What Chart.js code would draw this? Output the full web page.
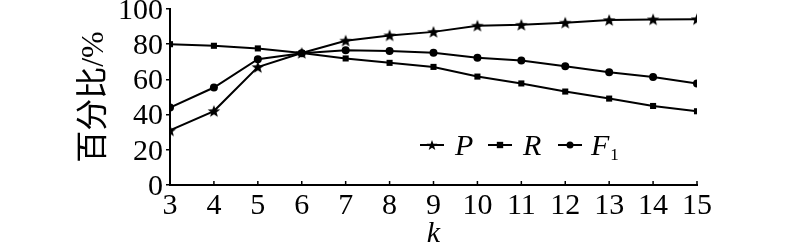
<!DOCTYPE html>
<html>
<head>
<meta charset="utf-8">
<script src="https://cdn.jsdelivr.net/npm/chart.js@4.4.1/dist/chart.umd.min.js"></script>
<style>
  html, body { margin: 0; padding: 0; background: #fff; }
</style>
</head>
<body>
<canvas id="chart" width="800" height="246"></canvas>
<script>
const kValues = [3, 4, 5, 6, 7, 8, 9, 10, 11, 12, 13, 14, 15];
const precision = [31, 42, 67, 75, 82, 85, 87, 90.5, 91, 92.2, 93.7, 94.1, 94.2];
const recall = [80, 79.1, 77.6, 75, 71.9, 69.4, 67.1, 61.6, 57.7, 53.1, 49.1, 44.9, 41.9];
const f1 = [44, 55.4, 71.5, 74.8, 76.6, 76.1, 75.1, 72.3, 70.8, 67.5, 64.1, 61.3, 57.7];
const yTicks = [0, 20, 40, 60, 80, 100];
const seriesNames = ['P', 'R', 'F'];

const serif = '"Liberation Serif", "Times New Roman", serif';

// filled five point star for the P marker
function makeStar(size, outer, inner) {
    const c = document.createElement('canvas');
    c.width = size;
    c.height = size;
    const g = c.getContext('2d');
    g.fillStyle = '#000';
    g.beginPath();
    for (let i = 0; i < 10; i++) {
        const r = i % 2 === 0 ? outer : inner;
        const a = -Math.PI / 2 + i * Math.PI / 5;
        const px = size / 2 + r * Math.cos(a);
        const py = size / 2 + 0.5 + r * Math.sin(a);
        if (i === 0) g.moveTo(px, py); else g.lineTo(px, py);
    }
    g.closePath();
    g.fill();
    return c;
}
const starImg = makeStar(14, 6.6, 2.8);
const starSmall = makeStar(12, 5.6, 2.3);

const toPoints = (arr) => arr.map((v, i) => ({ x: kValues[i], y: v }));

function makeDataset(label, values, style, radius) {
    return {
        label: label,
        data: toPoints(values),
        borderColor: '#000',
        backgroundColor: '#000',
        borderWidth: 2,
        pointStyle: style,
        pointRadius: radius,
        pointBorderWidth: 0,
        pointBackgroundColor: '#000',
        tension: 0
    };
}

// legend drawn inside the plot, with subscript for F1
const inlineLegend = {
    id: 'inlineLegend',
    afterDraw(chart) {
        const ctx = chart.ctx;
        const y = 145;
        const items = [
            { x1: 420, x2: 444, tx: 455, style: starSmall, r: 5 },
            { x1: 488, x2: 512, tx: 523, style: 'rect', r: 4.5 },
            { x1: 558, x2: 582, tx: 591, style: 'circle', r: 3.5 }
        ];
        ctx.save();
        items.forEach((it, i) => {
            ctx.strokeStyle = '#000';
            ctx.fillStyle = '#000';
            ctx.lineWidth = 2;
            ctx.beginPath();
            ctx.moveTo(it.x1, y);
            ctx.lineTo(it.x2, y);
            ctx.stroke();
            Chart.helpers.drawPoint(ctx, { pointStyle: it.style, radius: it.r, rotation: 0, borderWidth: 0 }, (it.x1 + it.x2) / 2, y);
            ctx.font = 'italic 30px ' + serif;
            ctx.textBaseline = 'alphabetic';
            ctx.textAlign = 'left';
            ctx.fillText(seriesNames[i], it.tx, 155);
            if (i === 2) {
                const w = ctx.measureText(seriesNames[i]).width;
                ctx.font = '17px ' + serif;
                ctx.fillText('1', it.tx + w + 1, 160);
            }
        });
        ctx.restore();
    }
};

// x axis tick marks point into the plot
const innerTicks = {
    id: 'innerTicks',
    afterDraw(chart) {
        const ctx = chart.ctx;
        const xs = chart.scales.x;
        const bottom = chart.chartArea.bottom;
        ctx.save();
        ctx.strokeStyle = '#000';
        ctx.lineWidth = 1.5;
        kValues.forEach((k) => {
            const px = xs.getPixelForValue(k);
            ctx.beginPath();
            ctx.moveTo(px, bottom);
            ctx.lineTo(px, bottom - 4);
            ctx.stroke();
        });
        ctx.restore();
    }
};

function drawChart() {
    const ctx = document.getElementById('chart').getContext('2d');
    new Chart(ctx, {
        type: 'line',
        data: {
            datasets: [
                makeDataset('P', precision, starImg, 7),
                makeDataset('R', recall, 'rect', 4.3),
                makeDataset('F1', f1, 'circle', 4)
            ]
        },
        options: {
            responsive: false,
            animation: false,
            layout: { padding: { left: 75, right: 103, top: 9, bottom: 0 } },
            plugins: {
                legend: { display: false },
                tooltip: { enabled: false }
            },
            scales: {
                x: {
                    type: 'linear',
                    min: 3,
                    max: 15,
                    afterFit: (s) => { s.height = 61; s.paddingLeft = 0; s.paddingRight = 0; },
                    border: { display: true, color: '#000', width: 2 },
                    grid: { display: true, drawOnChartArea: false, drawTicks: false },
                    ticks: {
                        stepSize: 1,
                        autoSkip: false,
                        maxRotation: 0,
                        color: '#000',
                        padding: 3,
                        font: { family: serif, size: 30 }
                    },
                    title: {
                        display: true,
                        text: 'k',
                        color: '#000',
                        padding: { top: 0, bottom: -6 },
                        font: { family: serif, size: 30, style: 'italic' }
                    }
                },
                y: {
                    min: 0,
                    max: 100,
                    afterFit: (s) => { s.width = 95; s.paddingTop = 0; s.paddingBottom = 0; },
                    afterBuildTicks: (s) => { s.ticks = yTicks.map((v) => ({ value: v })); },
                    border: { display: true, color: '#000', width: 2 },
                    grid: { display: true, drawOnChartArea: false, drawTicks: true, tickLength: 4, color: '#000', lineWidth: 1.5 },
                    ticks: {
                        autoSkip: false,
                        color: '#000',
                        padding: 3,
                        labelOffset: 2,
                        font: { family: serif, size: 30 }
                    },
                    title: {
                        display: true,
                        text: '百分比/%',
                        color: '#000',
                        padding: 0,
                        font: { family: '"Liberation Serif", "Noto Sans CJK SC", serif', size: 32 }
                    }
                }
            }
        },
        plugins: [inlineLegend, innerTicks]
    });
}

Promise.all([
    document.fonts.load('30px "Liberation Serif"'),
    document.fonts.load('italic 30px "Liberation Serif"'),
    document.fonts.load('32px "Noto Sans CJK SC"', '百分比')
]).then(drawChart, drawChart);
</script>
</body>
</html>
